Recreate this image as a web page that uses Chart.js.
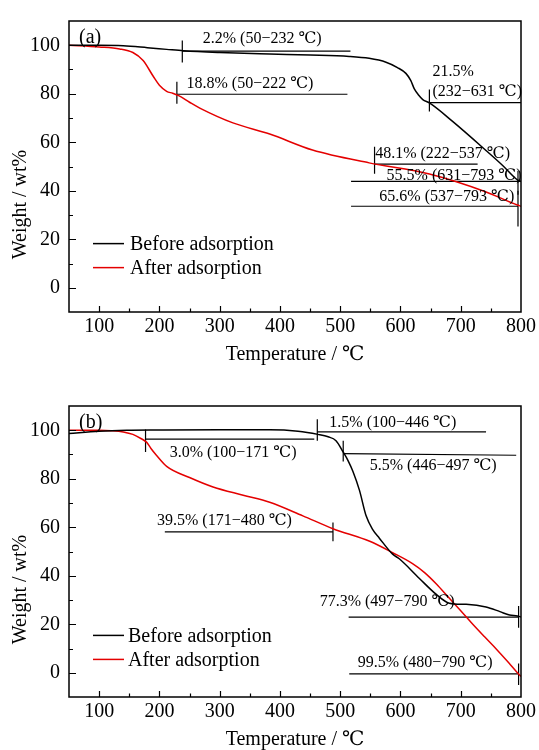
<!DOCTYPE html>
<html><head><meta charset="utf-8">
<script src="https://cdn.jsdelivr.net/npm/chart.js@4.4.1/dist/chart.umd.min.js"></script>
<style>
html,body{margin:0;padding:0;background:#fff;overflow:hidden;width:539px;height:750px}
.p{position:absolute;left:0;width:539px;height:375px}
#pa{top:0}#pb{top:385px}
</style></head><body>
<div class="p" id="pa"><canvas id="ca" width="539" height="375"></canvas></div>
<div class="p" id="pb"><canvas id="cb" width="539" height="375"></canvas></div>
<script>
// ---------- data ----------
const seriesLabels = ['Before adsorption', 'After adsorption'];
const xTickLabels = [100, 200, 300, 400, 500, 600, 700, 800];
const yTickLabels = [0, 20, 40, 60, 80, 100];

// panel (a)
const tempBeforeA   = [50, 100, 140, 180, 212, 240, 300, 383, 450, 515, 548, 576, 595, 609, 617, 623, 630, 637, 648, 686, 741, 770, 794, 800];
const weightBeforeA = [100, 100, 99.8, 99.0, 98.3, 97.7, 97.0, 96.4, 96.0, 95.4, 94.6, 93.0, 90.8, 88.4, 85.5, 82.0, 79.5, 77.6, 76.2, 68.7, 56.8, 50.3, 44.5, 43.8];
const tempAfterA    = [50, 100, 134, 156, 173, 190, 200, 212, 222, 232, 250, 267, 322, 383, 454, 548, 648, 741, 794, 800];
const weightAfterA  = [100, 99.3, 98.5, 97.0, 93.7, 87.1, 83.5, 81.0, 80.2, 79.2, 76.5, 74.1, 68.0, 63.4, 56.8, 51.5, 46.9, 39.6, 34.1, 33.6];

// panel (b)
const tempBeforeB   = [50, 100, 146, 200, 300, 383, 430, 463, 480, 493, 505, 513, 521, 532, 543, 554, 565, 587, 598, 631, 659, 681, 709, 742, 765, 781, 794, 800];
const weightBeforeB = [98.7, 99.6, 100, 100.1, 100.2, 100.2, 99.6, 98.3, 97.3, 95.7, 91.0, 87.5, 83.1, 75.2, 64.7, 59.0, 55.5, 48.9, 47.0, 39.0, 32.4, 28.7, 28.2, 27.1, 25.2, 23.8, 23.4, 23.0];
const tempAfterB    = [50, 100, 120, 140, 156, 170, 179, 186, 195, 212, 250, 289, 339, 383, 438, 488, 549, 587, 620, 640, 660, 680, 700, 720, 740, 760, 780, 794, 800];
const weightAfterB  = [100, 100, 99.8, 99.3, 98.3, 96.5, 95.0, 92.5, 89.7, 85.1, 80.5, 76.6, 73.2, 70.3, 64.7, 59.4, 54.2, 49.5, 45.0, 41.3, 36.5, 31.0, 25.6, 20.0, 14.7, 9.5, 4.0, 0.0, -1.5];

// annotation labels: [text, x(℃), y(wt%)]
const notesA = [
  ['2.2% (50\u2212232 \u2103)', 272, 102.8],
  ['18.8% (50\u2212222 \u2103)', 245, 84.2],
  ['21.5%', 653, 88.9],
  ['(232\u2212631 \u2103)', 653, 81.0],
  ['48.1% (222\u2212537 \u2103)', 558, 55.3],
  ['55.5% (631\u2212793 \u2103)', 577, 46.2],
  ['65.6% (537\u2212793 \u2103)', 565, 37.5]
];
// annotation segments: [x1, y1, x2, y2]
const marksA = [
  [238, 102, 238, 92.9], [238, 97.6, 517, 97.6],
  [229, 85, 229, 75.9], [229, 79.8, 512, 79.8],
  [648, 81.8, 648, 72.7], [648, 76.3, 800, 76.3],
  [557, 58.1, 557, 47], [557, 51, 728, 51],
  [518, 43.9, 800, 43.9], [795, 48.2, 795, 38.3],
  [518, 33.6, 795, 33.6], [795, 40, 795, 25.3]
];
const notesB = [
  ['1.5% (100\u2212446 \u2103)', 482, 103.2],
  ['3.0% (100\u2212171 \u2103)', 217, 90.5],
  ['5.5% (446\u2212497 \u2103)', 549, 85.4],
  ['39.5% (171\u2212480 \u2103)', 196, 62.8],
  ['77.3% (497\u2212790 \u2103)', 466, 29.2],
  ['99.5% (480\u2212790 \u2103)', 529, 3.9]
];
const marksB = [
  [462, 104.5, 462, 95.7], [462, 99.3, 742, 99.3],
  [177, 100.3, 177, 91], [177, 96.3, 457, 96.3],
  [505, 95.7, 505, 87.1], [505, 90.4, 792, 89.7],
  [209, 58.1, 488, 58.1], [488, 62, 488, 54.2],
  [514, 22.9, 796, 22.9], [796, 27.5, 796, 18.6],
  [515, -0.5, 796, -0.5], [796, 3.8, 796, -5.1]
];

// ---------- drawing ----------
const FONT = "'Liberation Serif', 'Times New Roman', 'DejaVu Serif', serif";
const RED = 'rgb(228,0,0)';

function pts(xs, ys) { return xs.map((x, i) => ({x: x, y: ys[i]})); }

const decor = {
  id: 'decor',
  afterDatasetsDraw(chart, args, o) {
    const ctx = chart.ctx, a = chart.chartArea, xs = chart.scales.x, ys = chart.scales.y;
    ctx.save();
    ctx.strokeStyle = '#000';
    ctx.lineWidth = 1.5;
    ctx.strokeRect(a.left, a.top, a.right - a.left, a.bottom - a.top);
    ctx.lineWidth = 1.2;
    ctx.beginPath();
    xs.ticks.forEach(t => {
      if (t.value <= xs.min || t.value >= xs.max) return;
      const px = Math.round(xs.getPixelForValue(t.value)) + 0.5;
      const L = xTickLabels.includes(t.value) ? 6 : 3.5;
      ctx.moveTo(px, a.bottom); ctx.lineTo(px, a.bottom - L);
    });
    ys.ticks.forEach(t => {
      if (t.value <= ys.min || t.value >= ys.max) return;
      const py = Math.round(ys.getPixelForValue(t.value)) + 0.5;
      const L = yTickLabels.includes(t.value) ? 7 : 4;
      ctx.moveTo(a.left, py); ctx.lineTo(a.left + L, py);
    });
    ctx.stroke();
    // annotation texts
    ctx.fillStyle = '#000';
    ctx.font = '16px ' + FONT;
    ctx.textBaseline = 'middle';
    ctx.textAlign = 'left';
    o.notes.forEach(n => ctx.fillText(n[0], xs.getPixelForValue(n[1]), ys.getPixelForValue(n[2])));
    // panel label
    ctx.font = '20px ' + FONT;
    ctx.fillText(o.panel, a.left + 10, a.top + 17);
    // legend
    [0, 1].forEach(i => {
      const ds = chart.data.datasets[i];
      const py = ys.getPixelForValue(o.legendY[i]);
      ctx.strokeStyle = ds.borderColor;
      ctx.lineWidth = 1.5;
      ctx.beginPath();
      ctx.moveTo(a.left + 24, py); ctx.lineTo(a.left + 55, py);
      ctx.stroke();
      ctx.fillStyle = '#000';
      ctx.fillText(ds.label, a.left + o.legendTx, py + 1);
    });
    // y title
    ctx.save();
    ctx.translate(21, (a.top + a.bottom) / 2 + 38);
    ctx.rotate(-Math.PI / 2);
    ctx.textAlign = 'center';
    ctx.font = '20px ' + FONT;
    ctx.fillText('Weight / wt%', 0, 0);
    ctx.restore();
    ctx.restore();
  }
};

function makeChart(id, bx, by, ax, ay, marks, notes, panel, legendY, legendTx) {
  const datasets = [
    {label: seriesLabels[0], data: pts(bx, by), borderColor: '#000', borderWidth: 1.5, pointRadius: 0, cubicInterpolationMode: 'monotone', fill: false},
    {label: seriesLabels[1], data: pts(ax, ay), borderColor: RED, borderWidth: 1.5, pointRadius: 0, cubicInterpolationMode: 'monotone', fill: false}
  ];
  marks.forEach(m => datasets.push({label: '', data: [{x: m[0], y: m[1]}, {x: m[2], y: m[3]}], borderColor: '#000', borderWidth: 1.2, pointRadius: 0, tension: 0, fill: false}));
  return new Chart(document.getElementById(id), {
    type: 'line',
    data: {datasets: datasets},
    options: {
      responsive: false, animation: false, devicePixelRatio: 1,
      layout: {padding: {left: 0, top: 9, right: 17, bottom: 0}},
      plugins: {legend: {display: false}, tooltip: {enabled: false}, decor: {notes: notes, panel: panel, legendY: legendY, legendTx: legendTx}},
      scales: {
        x: {
          type: 'linear', min: 50, max: 800,
          afterFit: s => { s.height = 63; },
          grid: {display: false, drawTicks: false},
          border: {display: false},
          ticks: {stepSize: 50, autoSkip: false, maxRotation: 0, padding: 3, color: '#000',
            font: {family: FONT, size: 20},
            callback: v => xTickLabels.includes(v) ? String(v) : ''},
          title: {display: true, text: 'Temperature / \u2103', color: '#000', font: {family: FONT, size: 20}, padding: {top: 0, bottom: 8}}
        },
        y: {
          type: 'linear', min: -10, max: 110,
          afterFit: s => { s.width = 69; },
          grid: {display: false, drawTicks: false},
          border: {display: false},
          ticks: {stepSize: 10, autoSkip: false, padding: 9, color: '#000',
            font: {family: FONT, size: 20},
            callback: v => yTickLabels.includes(v) ? String(v) : ''}
        }
      }
    },
    plugins: [decor]
  });
}

makeChart('ca', tempBeforeA, weightBeforeA, tempAfterA, weightAfterA, marksA, notesA, '(a)', [18.2, 8.3], 61);
makeChart('cb', tempBeforeB, weightBeforeB, tempAfterB, weightAfterB, marksB, notesB, '(b)', [15.4, 5.5], 59);
</script>
</body></html>
